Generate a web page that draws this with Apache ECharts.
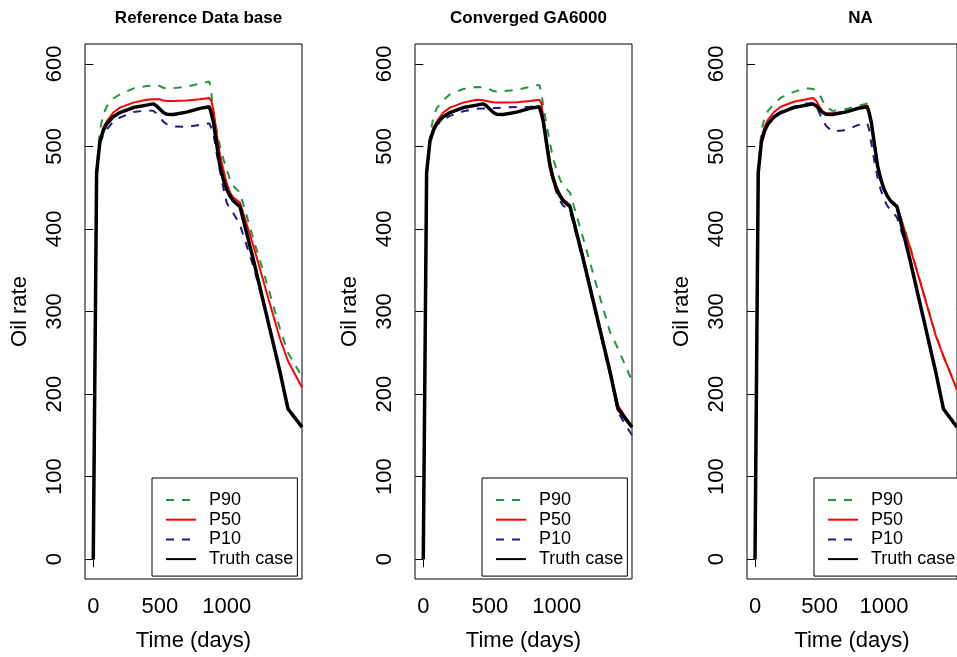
<!DOCTYPE html>
<html>
<head>
<meta charset="utf-8">
<script src="https://cdn.jsdelivr.net/npm/echarts@6/dist/echarts.min.js"></script>
<style>
  html, body { margin: 0; padding: 0; background: #fff; }
  #chart { width: 957px; height: 657px; }
</style>
</head>
<body>
<div id="chart"></div>
<script>
// time grid (days), shared by every curve
const days = [0, 25, 50, 75, 100, 150, 200, 300, 400, 450, 475, 500, 525, 550, 600, 700, 800, 870, 885, 900, 925, 950, 975, 1000, 1025, 1050, 1100, 1200, 1300, 1400, 1460, 1565];

// truth case, same in all three panels
const truth = [0, 468, 506, 519, 527, 536, 541, 547, 550, 551.5, 549, 545, 541, 539, 538.5, 541.5, 546, 548, 540, 530, 503, 476, 460, 448, 440, 434, 427, 363, 295, 227, 182, 160];

// Reference Data base
const refP90 = [0, 470, 520, 538, 548, 558, 563, 570, 573, 574, 574.5, 573, 571, 570, 570.5, 572.5, 576, 578.5, 566, 540, 520, 500, 485, 472, 460, 452, 444, 388, 335, 279, 250, 221];
const refP50 = [0, 468, 508, 523, 530, 541, 547, 553, 556.5, 557, 557, 557, 555.5, 555, 555, 555.5, 557, 558.5, 555, 545, 516, 490, 472, 456, 444, 438, 432, 380, 323, 267, 240, 208];
const refP10 = [0, 462, 504, 514, 520, 530, 535, 541.5, 543.5, 543, 540, 535, 530, 527, 524, 523.5, 526, 528, 522, 516, 492, 470, 450, 432, 424, 419, 405, 355, 295, 227, 182, 160];

// Converged GA6000
const gaP90 = [0, 470, 512, 535, 546, 556, 563, 569.5, 572, 571.5, 570.5, 569, 567, 566.5, 567, 568.5, 572, 574.5, 566, 548, 526, 504, 484, 472, 460, 452, 444, 388, 331, 275, 255, 216];
const gaP50 = [0, 468, 508, 522, 530, 541, 547, 553, 556.5, 556, 555, 554, 553.5, 553, 553, 553.5, 555, 556.5, 553, 535, 508, 482, 464, 451, 442, 436, 429, 366, 298, 230, 186, 160];
const gaP10 = [0, 462, 508, 520, 526, 532, 537, 542.5, 545.5, 546, 546, 546.4, 546.4, 546.4, 547, 547.6, 548, 548.5, 540, 528, 500, 474, 456, 444, 434, 428, 422, 360, 292, 224, 178, 150];

// NA
const naP90 = [0, 472, 520, 535, 543, 552, 559, 566, 570.5, 569.5, 567, 562.5, 555, 548, 543, 545, 549, 552, 542, 531, 504, 477, 460, 448, 440, 434, 428, 379, 326, 272, 246, 206];
const naP50 = [0, 470, 510, 524, 532, 542, 548, 554, 557, 558.5, 555, 548, 542, 540, 540, 542, 547, 549.5, 542, 531, 504, 477, 460, 448, 440, 434, 428, 378, 325, 271, 246, 205];
const naP10 = [0, 465, 505, 520, 528, 537, 542, 548, 552, 552.5, 549, 540, 532, 525, 518, 519.5, 526, 528, 520, 505, 482, 462, 447, 436, 428, 423, 414, 365, 295, 227, 182, 160];

const panelTitles = ['Reference Data base', 'Converged GA6000', 'NA'];
const panelData = [
  [refP90, refP50, refP10],
  [gaP90, gaP50, gaP10],
  [naP90, naP50, naP10]
];
const xTicks = [0, 500, 1000, 1500];
const xLabels = [0, 500, 1000];
const yTicks = [0, 100, 200, 300, 400, 500, 600];

const font = 'Liberation Sans, Arial, Helvetica, sans-serif';
const gridLefts = [85, 415, 747];
const gridW = 217;

const pairs = arr => days.map((d, i) => [d, arr[i]]);
const plain = v => String(v);

const grids = [], xAxes = [], yAxes = [], titles = [], legends = [], series = [];

gridLefts.forEach((left, p) => {
  grids.push({
    left: left, top: 44, width: gridW, height: 537,
    show: true, borderColor: '#000', borderWidth: 1, backgroundColor: 'transparent'
  });
  xAxes.push({
    type: 'value', gridIndex: p, min: -62, max: 1565,
    axisLine: { show: false },
    splitLine: { show: false },
    axisTick: { show: true, inside: false, length: 8, customValues: xTicks, lineStyle: { color: '#000', width: 1 } },
    axisLabel: { customValues: xLabels, formatter: plain, fontSize: 22, color: '#000', margin: 17, fontFamily: font },
    name: 'Time (days)', nameLocation: 'middle', nameGap: 51,
    nameTextStyle: { fontSize: 22, color: '#000', fontFamily: font }
  });
  yAxes.push({
    type: 'value', gridIndex: p, min: -24, max: 624,
    axisLine: { show: false },
    splitLine: { show: false },
    axisTick: { show: true, inside: false, length: 8, customValues: yTicks, lineStyle: { color: '#000', width: 1 } },
    axisLabel: { customValues: yTicks, formatter: plain, rotate: 90, fontSize: 22, color: '#000', margin: 19, fontFamily: font },
    name: 'Oil rate', nameLocation: 'middle', nameGap: 54,
    nameTextStyle: { fontSize: 22, color: '#000', fontFamily: font }
  });
  titles.push({
    text: panelTitles[p],
    left: left + gridW / 2, top: 5, textAlign: 'center',
    textStyle: { fontSize: 17, fontWeight: 'bold', color: '#000', fontFamily: font }
  });
  legends.push({
    data: ['P90', 'P50', 'P10', 'Truth case'],
    orient: 'vertical', left: left + 67, top: 478,
    itemWidth: 30, itemHeight: 14, itemGap: 1.7,
    padding: [13, 4, 8, 13],
    borderColor: '#000', borderWidth: 1, backgroundColor: '#fff',
    selectedMode: false,
    itemStyle: { opacity: 0 },
    textStyle: { fontSize: 18, color: '#000', fontFamily: font, padding: [0, 0, 0, 8] }
  });

  const [p90, p50, p10] = panelData[p];
  const base = { type: 'line', xAxisIndex: p, yAxisIndex: p, symbol: 'none', clip: true, animation: false };
  series.push(Object.assign({}, base, {
    name: 'P90', data: pairs(p90), z: 3,
    lineStyle: { color: '#22963c', width: 2, type: [8, 8] }, itemStyle: { color: '#22963c' }
  }));
  series.push(Object.assign({}, base, {
    name: 'P50', data: pairs(p50), z: 4,
    lineStyle: { color: '#ff0000', width: 2 }, itemStyle: { color: '#ff0000' }
  }));
  series.push(Object.assign({}, base, {
    name: 'P10', data: pairs(p10), z: 3,
    lineStyle: { color: '#1c1c8c', width: 2, type: [8, 8] }, itemStyle: { color: '#1c1c8c' }
  }));
  series.push(Object.assign({}, base, {
    name: 'Truth case', data: pairs(truth), z: 5,
    lineStyle: { color: '#000', width: 3.5 }, itemStyle: { color: '#000' }
  }));
});

const chart = echarts.init(document.getElementById('chart'), null, { renderer: 'canvas' });
chart.setOption({
  animation: false,
  backgroundColor: '#fff',
  title: titles,
  legend: legends,
  grid: grids,
  xAxis: xAxes,
  yAxis: yAxes,
  series: series
});
</script>
</body>
</html>
